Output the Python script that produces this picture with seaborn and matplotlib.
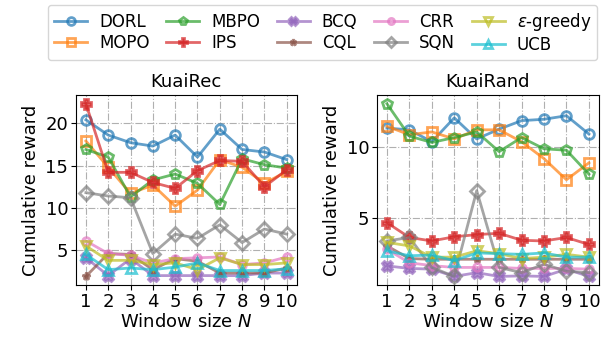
import numpy as np
import pandas as pd
import seaborn as sns
import matplotlib.pyplot as plt

# window sizes
window = [1, 2, 3, 4, 5, 6, 7, 8, 9, 10]

methods = ['DORL', 'MOPO', 'MBPO', 'IPS', 'BCQ', 'CQL', 'CRR', 'SQN', r'$\epsilon$-greedy', 'UCB']

# KuaiRec cumulative reward
rec_dorl = [20.4, 18.6, 17.7, 17.3, 18.6, 16.0, 19.3, 16.9, 16.6, 15.7]
rec_mopo = [17.9, 14.8, 11.7, 12.7, 10.2, 12.1, 15.7, 14.8, 12.9, 14.3]
rec_mbpo = [16.9, 16.0, 11.3, 13.3, 14.0, 12.9, 10.4, 15.8, 15.1, 14.7]
rec_ips = [22.3, 14.2, 14.2, 13.0, 12.3, 14.4, 15.6, 15.5, 12.5, 14.5]
rec_bcq = [4.1, 2.0, 4.0, 2.0, 2.0, 2.0, 2.0, 2.0, 2.3, 2.3]
rec_cql = [1.9, 4.6, 4.5, 2.7, 4.0, 3.7, 2.3, 2.3, 2.3, 2.9]
rec_crr = [6.1, 4.6, 4.4, 3.5, 4.0, 4.1, 4.2, 3.3, 3.5, 4.2]
rec_sqn = [11.8, 11.4, 11.2, 4.6, 6.9, 6.4, 8.0, 5.9, 7.5, 6.9]
rec_eps = [5.5, 3.8, 3.8, 3.3, 3.5, 2.7, 4.1, 3.3, 3.3, 3.5]
rec_ucb = [4.5, 2.7, 2.9, 2.7, 3.0, 3.5, 2.6, 2.6, 2.6, 2.8]

# KuaiRand cumulative reward
rand_dorl = [11.37, 11.25, 10.4, 12.1, 10.6, 11.3, 11.9, 12.0, 12.25, 10.95]
rand_mopo = [11.5, 10.9, 11.1, 10.6, 11.25, 11.25, 10.4, 9.2, 7.7, 8.9]
rand_mbpo = [13.1, 10.8, 10.35, 10.7, 11.1, 9.7, 10.7, 9.9, 9.8, 8.1]
rand_ips = [4.65, 3.6, 3.35, 3.65, 3.8, 3.9, 3.4, 3.35, 3.6, 3.1]
rand_bcq = [1.58, 1.4, 1.35, 0.83, 1.1, 0.83, 0.87, 0.83, 1.35, 0.83]
rand_cql = [3.0, 2.1, 2.05, 2.05, 2.05, 2.05, 2.05, 2.05, 2.05, 2.05]
rand_crr = [2.76, 1.8, 1.6, 1.47, 1.47, 1.47, 1.4, 1.4, 1.4, 1.35]
rand_sqn = [3.35, 3.6, 1.47, 0.83, 6.93, 1.47, 1.1, 1.7, 1.2, 1.1]
rand_eps = [3.25, 3.0, 2.2, 2.2, 2.65, 2.45, 2.1, 2.2, 2.4, 2.2]
rand_ucb = [2.65, 2.3, 2.35, 1.95, 2.5, 2.45, 2.4, 2.5, 2.2, 2.2]

rec_all = [rec_dorl, rec_mopo, rec_mbpo, rec_ips, rec_bcq, rec_cql, rec_crr, rec_sqn, rec_eps, rec_ucb]
rand_all = [rand_dorl, rand_mopo, rand_mbpo, rand_ips, rand_bcq, rand_cql, rand_crr, rand_sqn, rand_eps, rand_ucb]

colors = sns.color_palette('tab10', 10)
markers = ['o', 's', 'p', 'P', 'X', '*', 'o', 'D', 'v', '^']
msizes = [7, 7, 7, 7.5, 7.5, 6, 5.5, 7, 7, 7]
filled = [False, False, False, True, True, True, False, False, False, False]

fs = 13

fig = plt.figure(figsize=(6.02, 3.41), dpi=100)
ax1 = fig.add_axes([0.126, 0.164, 0.367, 0.557])
ax2 = fig.add_axes([0.626, 0.164, 0.369, 0.557])

for ax, data, title in [(ax1, rec_all, 'KuaiRec'), (ax2, rand_all, 'KuaiRand')]:
    for i, name in enumerate(methods):
        df = pd.DataFrame({'N': window, 'reward': data[i]})
        sns.lineplot(data=df, x='N', y='reward', ax=ax,
                     color=colors[i], marker=markers[i], markersize=msizes[i],
                     markerfacecolor=colors[i] if filled[i] else 'none',
                     markeredgecolor=colors[i], markeredgewidth=2,
                     linewidth=2, alpha=0.7, label=name, legend=False)
    ax.set_title(title, fontsize=fs)
    ax.set_xlabel('Window size $N$', fontsize=fs, labelpad=2)
    ax.set_ylabel('Cumulative reward', fontsize=fs)
    ax.set_xticks(window)
    ax.tick_params(labelsize=fs, pad=2)
    ax.grid(True, linestyle='-.', color='#b0b0b0', linewidth=0.8)
    ax.set_axisbelow(True)

ax1.set_yticks([5, 10, 15, 20])
ax2.set_yticks([5, 10])

handles, labels = ax1.get_legend_handles_labels()
fig.legend(handles, labels, loc='upper center', bbox_to_anchor=(0.536, 0.985),
           ncol=5, fontsize=12, handlelength=2.0, columnspacing=1.0,
           labelspacing=0.2, handletextpad=0.7, borderpad=0.35, borderaxespad=0.0,
           markerscale=0.8)

fig.savefig('out.png', dpi=100)
